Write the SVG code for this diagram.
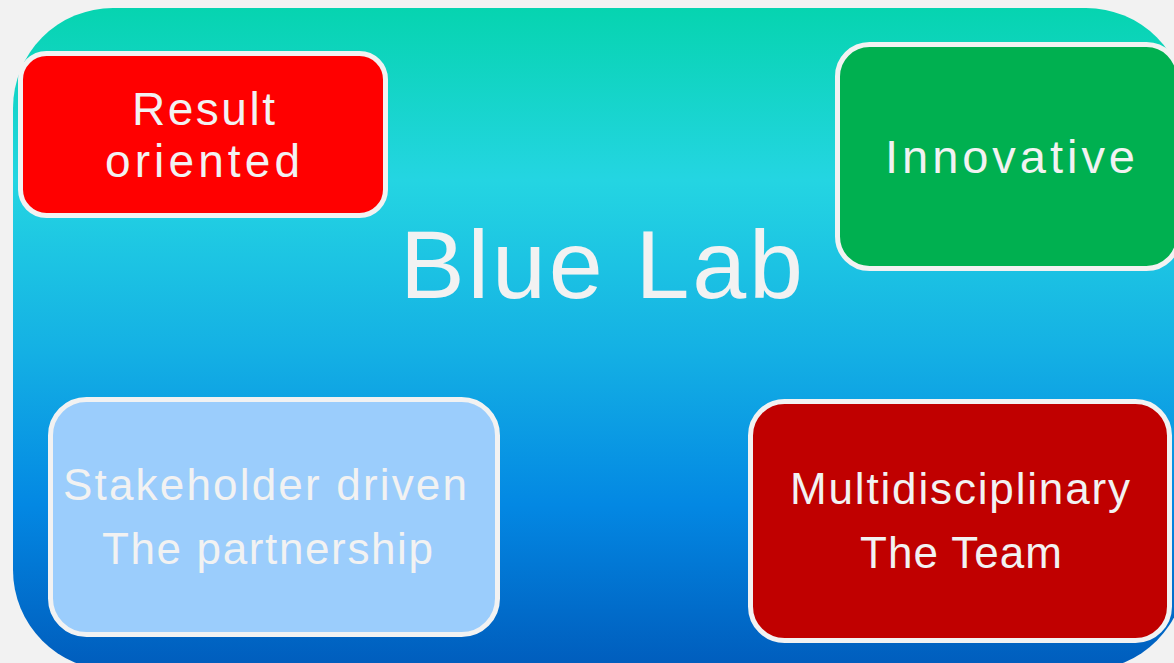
<svg xmlns="http://www.w3.org/2000/svg" width="1174" height="663" viewBox="0 0 1174 663">
<defs>
<linearGradient id="bg" x1="0" y1="8" x2="0" y2="670" gradientUnits="userSpaceOnUse">
<stop offset="0" stop-color="#06D4B0"/>
<stop offset="0.26" stop-color="#24D5E2"/>
<stop offset="0.52" stop-color="#14B0E4"/>
<stop offset="0.75" stop-color="#0388E3"/>
<stop offset="1" stop-color="#005CBC"/>
</linearGradient>
<style>
.node{stroke:#F2F2F2;stroke-width:5}
.t{font-family:"Liberation Sans",Arial,sans-serif;fill:#F2F2F2;text-anchor:middle}
</style>
</defs>
<rect width="1174" height="663" fill="#F2F2F2"/>
<rect x="13" y="8" width="1173" height="662" rx="100" ry="100" fill="url(#bg)"/>
<text class="t" x="601.5" y="298" font-size="97" textLength="403" lengthAdjust="spacing">Blue Lab</text>
<g id="connectors"/>
<g id="node-result">
<rect class="node" x="20.5" y="53.5" width="365" height="162" rx="26" fill="#FF0000"/>
<text class="t" x="203.5" y="125" font-size="46" textLength="143" lengthAdjust="spacing">Result</text>
<text class="t" x="202.5" y="176.5" font-size="46" textLength="195" lengthAdjust="spacing">oriented</text>
</g>
<g id="node-innovative">
<rect class="node" x="837.5" y="44.5" width="341" height="224" rx="32" fill="#00B050"/>
<text class="t" x="1010" y="173" font-size="47" textLength="250" lengthAdjust="spacing">Innovative</text>
</g>
<g id="node-stakeholder">
<rect class="node" x="50.5" y="399.5" width="447" height="235" rx="36" fill="#9BCDFC"/>
<text class="t" x="265" y="500" font-size="44" textLength="404" lengthAdjust="spacing">Stakeholder driven</text>
<text class="t" x="267.5" y="564" font-size="44" textLength="331" lengthAdjust="spacing">The partnership</text>
</g>
<g id="node-multidisciplinary">
<rect class="node" x="750.5" y="401.5" width="419" height="239" rx="34" fill="#C00000"/>
<text class="t" x="960" y="504" font-size="44" textLength="340" lengthAdjust="spacing">Multidisciplinary</text>
<text class="t" x="961" y="568" font-size="44" textLength="202" lengthAdjust="spacing">The Team</text>
</g>
</svg>
